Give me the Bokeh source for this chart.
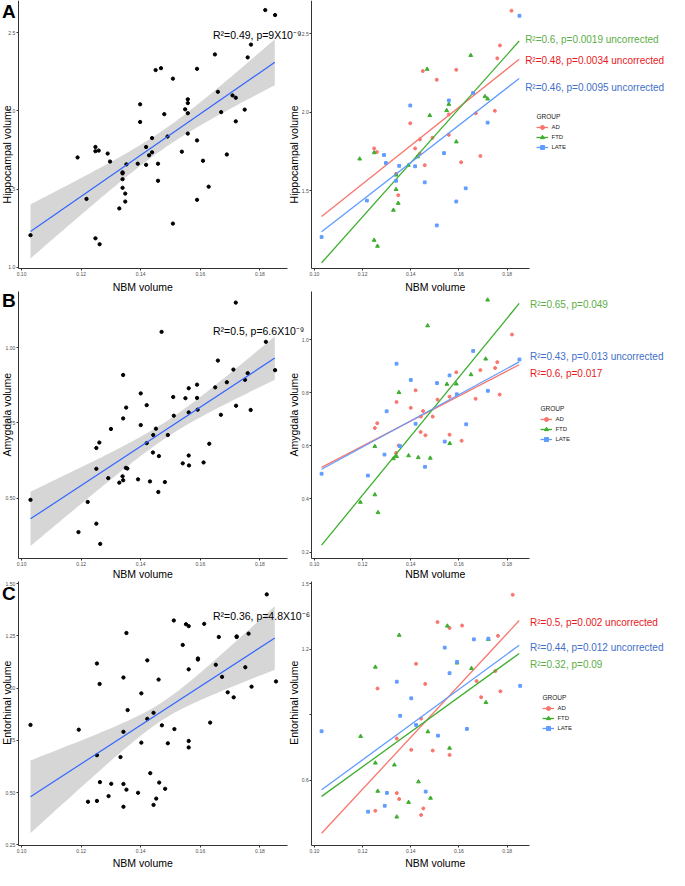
import numpy as np
from bokeh.plotting import figure
from bokeh.models import Range1d, FixedTicker, Label, Legend, LegendItem, LinearAxis
from bokeh.embed import file_html
from bokeh.resources import INLINE

# ------------------------------------------------------------------ data
x_ticks = [0.10, 0.12, 0.14, 0.16, 0.18]
x_tick_labels = ["0.10", "0.12", "0.14", "0.16", "0.18"]
groups = ["AD", "FTD", "LATE"]
fit_x = [0.103, 0.185]          # x extent of the fitted lines

# Row A : hippocampal volume
hip_nbm_ad = [0.1818, 0.1770, 0.1759, 0.1450, 0.1589, 0.1508, 0.1558, 0.1670, 0.1749, 0.1398, 0.1558,
              0.1490, 0.1438, 0.1418, 0.1248, 0.1259, 0.1689, 0.1438, 0.1458, 0.1609, 0.1339, 0.1348]
hip_vol_ad = [2.645, 2.424, 2.342, 2.261, 2.269, 2.206, 1.985, 1.992, 2.008, 1.929, 1.855,
              1.836, 1.826, 1.769, 1.769, 1.746, 1.721, 1.735, 1.662, 1.681, 1.607, 1.471]
hip_nbm_ftd = [0.1649, 0.1468, 0.1708, 0.1719, 0.1558, 0.1549, 0.1479, 0.1589, 0.1248, 0.1188, 0.1428,
               0.1390, 0.1339, 0.1339, 0.1348, 0.1328, 0.1248, 0.1262]
hip_vol_ftd = [2.361, 2.273, 2.099, 2.084, 2.050, 2.010, 1.979, 1.811, 1.742, 1.702, 1.716,
               1.662, 1.600, 1.508, 1.420, 1.376, 1.185, 1.147]
hip_nbm_late = [0.1851, 0.1659, 0.1398, 0.1558, 0.1719, 0.1289, 0.1538, 0.1297, 0.1352, 0.1418, 0.1339,
                0.1458, 0.1628, 0.1589, 0.1218, 0.1508, 0.1030]
hip_vol_late = [2.613, 2.122, 2.042, 2.074, 1.933, 1.727, 1.739, 1.676, 1.658, 1.655, 1.563,
                1.553, 1.515, 1.431, 1.437, 1.279, 1.205]
hip_fit_all = [1.229, 2.311]
hip_band_hw = [0.173, 0.060, 0.147]     # half width: left end, narrowest, right end
hip_fit_ad = [1.335, 2.336]
hip_fit_ftd = [1.041, 2.452]
hip_fit_late = [1.239, 2.214]
hip_yticks_left = [1.0, 1.5, 2.0, 2.5]
hip_ylabels_left = ["1.0", "1.5", "2.0", "2.5"]
hip_yticks_right = [1.5, 2.0, 2.5]
hip_ylabels_right = ["1.5", "2.0", "2.5"]
hip_text_all = "R²=0.49, p=9X10⁻⁹"
hip_text_groups = {"FTD": "R²=0.6, p=0.0019 uncorrected",
                   "AD": "R²=0.48, p=0.0034 uncorrected",
                   "LATE": "R²=0.46, p=0.0095 uncorrected"}

# Row B : amygdala volume
amy_nbm_ad = [0.1820, 0.1759, 0.1750, 0.1689, 0.1589, 0.1420, 0.1341, 0.1511, 0.1561, 0.1669, 0.1769,
              0.1400, 0.1451, 0.1442, 0.1491, 0.1261, 0.1251, 0.1441, 0.1461, 0.1561, 0.1611, 0.1350, 0.1339]
amy_vol_ad = [1.019, 0.915, 0.893, 0.885, 0.877, 0.809, 0.765, 0.774, 0.785, 0.777, 0.793,
              0.743, 0.731, 0.710, 0.710, 0.685, 0.667, 0.652, 0.640, 0.642, 0.619, 0.601, 0.573]
amy_nbm_ftd = [0.1719, 0.1470, 0.1650, 0.1711, 0.1550, 0.1589, 0.1351, 0.1562, 0.1251, 0.1341, 0.1328,
               0.1391, 0.1431, 0.1481, 0.1251, 0.1191, 0.1264]
amy_vol_ftd = [1.149, 1.052, 0.868, 0.927, 0.832, 0.833, 0.801, 0.609, 0.598, 0.560, 0.552,
               0.563, 0.556, 0.554, 0.416, 0.388, 0.349]
amy_nbm_late = [0.1851, 0.1659, 0.1341, 0.1400, 0.1509, 0.1561, 0.1591, 0.1720, 0.1300, 0.1420, 0.1630,
                0.1541, 0.1355, 0.1291, 0.1459, 0.1222, 0.1030]
amy_vol_late = [0.925, 0.957, 0.909, 0.848, 0.836, 0.865, 0.794, 0.807, 0.730, 0.683, 0.681,
                0.616, 0.599, 0.567, 0.521, 0.488, 0.495]
amy_fit_all = [0.432, 0.965]
amy_band_hw = [0.090, 0.027, 0.072]
amy_fit_ad = [0.519, 0.905]
amy_fit_ftd = [0.226, 1.136]
amy_fit_late = [0.512, 0.916]
amy_yticks_left = [0.50, 0.75, 1.00]
amy_ylabels_left = ["0.50", "0.75", "1.00"]
amy_yticks_right = [0.2, 0.4, 0.6, 0.8, 1.0]
amy_ylabels_right = ["0.2", "0.4", "0.6", "0.8", "1.0"]
amy_text_all = "R²=0.5, p=6.6X10⁻⁹"
amy_text_groups = {"FTD": "R²=0.65, p=0.049",
                   "LATE": "R²=0.43, p=0.013 uncorrected",
                   "AD": "R²=0.6, p=0.017"}

# Row C : entorhinal volume
ent_nbm_ad = [0.1823, 0.1511, 0.1561, 0.1613, 0.1762, 0.1422, 0.1751, 0.1460, 0.1262, 0.1673, 0.1772,
              0.1692, 0.1443, 0.1342, 0.1402, 0.1491, 0.1561, 0.1342, 0.1352, 0.1253, 0.1452, 0.1443]
ent_vol_ad = [1.449, 1.324, 1.297, 1.308, 1.261, 1.133, 1.100, 1.041, 1.020, 1.054, 1.007,
              0.980, 0.882, 0.791, 0.739, 0.736, 0.716, 0.541, 0.514, 0.460, 0.471, 0.441]
ent_nbm_ftd = [0.1552, 0.1352, 0.1722, 0.1253, 0.1592, 0.1652, 0.1712, 0.1471, 0.1192, 0.1561, 0.1253,
               0.1332, 0.1432, 0.1263, 0.1391, 0.1482, 0.1342]
ent_vol_ftd = [1.306, 1.264, 1.245, 1.118, 1.137, 1.112, 0.956, 0.822, 0.801, 0.747, 0.679,
               0.670, 0.593, 0.550, 0.499, 0.518, 0.432]
ent_nbm_late = [0.1662, 0.1722, 0.1541, 0.1592, 0.1561, 0.1342, 0.1854, 0.1402, 0.1356, 0.1422, 0.1513,
                0.1633, 0.1301, 0.1462, 0.1292, 0.1223, 0.1030]
ent_vol_late = [1.245, 1.248, 1.207, 1.142, 1.090, 1.051, 1.032, 0.975, 0.895, 0.853, 0.804,
                0.835, 0.542, 0.548, 0.483, 0.456, 0.824]
ent_fit_all = [0.480, 1.240]
ent_band_hw = [0.174, 0.043, 0.152]
ent_fit_ad = [0.357, 1.331]
ent_fit_ftd = [0.526, 1.180]
ent_fit_late = [0.556, 1.218]
ent_yticks_left = [0.25, 0.50, 0.75, 1.00, 1.25, 1.50]
ent_ylabels_left = ["0.25", "0.50", "75", "00", "1.25", "1.50"]
ent_yticks_right = [0.6, 0.9, 1.2, 1.5]
ent_ylabels_right = ["0.6", "", "1.2", "1.5"]
ent_text_all = "R²=0.36, p=4.8X10⁻⁶"
ent_text_groups = {"AD": "R²=0.5, p=0.002 uncorrected",
                   "LATE": "R²=0.44, p=0.012 uncorrected",
                   "FTD": "R²=0.32, p=0.09"}

# ------------------------------------------------------------------ style / layout
FONT = "Liberation Sans"
COL = {"AD": "#F8766D", "FTD": "#3DAE2E", "LATE": "#619CFF"}
TXT = {"AD": "#E8191E", "FTD": "#5BAE47", "LATE": "#3F6FC6"}
MARK = {"AD": "circle", "FTD": "triangle", "LATE": "square"}
MSIZE = {"AD": 3.0, "FTD": 3.8, "LATE": 2.8}
X_RANGE = (0.0989, 0.1891)
W, H = 669, 870


def CX(x):   # reference-picture x -> canvas x
    return (x - 8) * 0.988


def CY(y):   # reference-picture y -> canvas y (from top)
    return (y - 8) * 0.9863


p = figure(width=W, height=H, x_range=Range1d(0, W), y_range=Range1d(0, H),
           x_axis_type=None, y_axis_type=None, output_backend="svg",
           toolbar_location=None, min_border=0, min_border_left=0, min_border_right=0,
           min_border_top=0, min_border_bottom=0, outline_line_color=None,
           background_fill_color="white", border_fill_color="white")
p.grid.visible = False


def add_text(text, cx, cy, size="10.5px", color="black", align="center",
             baseline="middle", angle=0.0, style="normal"):
    p.add_layout(Label(x=cx, y=H - cy, x_units="screen", y_units="screen", text=text,
                       text_font=FONT, text_font_size=size, text_color=color,
                       text_align=align, text_baseline=baseline, angle=angle,
                       text_font_style=style))


def style_axis(ax):
    ax.axis_line_color = "#333333"
    ax.axis_line_width = 1
    ax.major_tick_line_color = "#333333"
    ax.major_tick_out = 2
    ax.major_tick_in = 0
    ax.minor_tick_line_color = None
    ax.major_label_text_font = FONT
    ax.major_label_text_font_size = "5px"
    ax.major_label_text_color = "#4D4D4D"
    ax.major_label_standoff = 1


def panel(key, fx, fy, yr, yticks, ylabels):
    """Create ranges and axes for one panel whose frame occupies ref box fx x fy."""
    x0, x1 = X_RANGE
    y0, y1 = yr
    cl, cr = CX(fx[0]), CX(fx[1])
    ct, cb = CY(fy[0]), CY(fy[1])
    sx = (x1 - x0) / (cr - cl)
    sy = (y1 - y0) / (cb - ct)
    p.extra_x_ranges[key + "x"] = Range1d(x0 - cl * sx, x0 + (W - cl) * sx)
    p.extra_y_ranges[key + "y"] = Range1d(y0 - (H - cb) * sy, y1 + ct * sy)
    kw = dict(x_range_name=key + "x", y_range_name=key + "y")
    yax = LinearAxis(fixed_location=x0, bounds=(y0, y1), ticker=FixedTicker(ticks=yticks),
                     major_label_overrides=dict(zip(yticks, ylabels)), **kw)
    xax = LinearAxis(fixed_location=y0, bounds=(x0, x1), ticker=FixedTicker(ticks=x_ticks),
                     major_label_overrides=dict(zip(x_ticks, x_tick_labels)), **kw)
    style_axis(yax)
    style_axis(xax)
    p.add_layout(yax, "left")
    p.add_layout(xax, "below")
    return kw


def band(fit_y, hw):
    x_lo, x_hi = fit_x
    hw_lo, hw_min, hw_hi = hw
    a = hw_lo ** 2 - hw_min ** 2
    b = hw_hi ** 2 - hw_min ** 2
    r = np.sqrt(a / b)
    xc = (x_lo + r * x_hi) / (1 + r)
    k = a / (xc - x_lo) ** 2
    xs = np.linspace(x_lo, x_hi, 80)
    ys = fit_y[0] + (fit_y[1] - fit_y[0]) * (xs - x_lo) / (x_hi - x_lo)
    h = np.sqrt(hw_min ** 2 + k * (xs - xc) ** 2)
    return xs, ys - h, ys + h


rows_cfg = [
    dict(key="A", fy=(8, 280), letter="A", letter_top=0.5, ylabel="Hippocampal volume", ylab_y=164,
         xlab_y=298, yl_range=(0.99, 2.706), yr_range=(1.003, 2.71),
         yl_ticks=hip_yticks_left, yl_labels=hip_ylabels_left,
         yr_ticks=hip_yticks_right, yr_labels=hip_ylabels_right,
         pts={"AD": (hip_nbm_ad, hip_vol_ad), "FTD": (hip_nbm_ftd, hip_vol_ftd),
              "LATE": (hip_nbm_late, hip_vol_late)},
         fit_all=hip_fit_all, band_hw=hip_band_hw,
         fits={"AD": hip_fit_ad, "FTD": hip_fit_ftd, "LATE": hip_fit_late},
         text_all=hip_text_all, text_all_y=42.7, text_groups=hip_text_groups,
         gtext_x=539, gtext_y={"FTD": 47.3, "AD": 69.3, "LATE": 96.7},
         leg_x=551, leg_bottom=162),
    dict(key="B", fy=(303, 574), letter="B", letter_top=CY(305) - 3.5, ylabel="Amygdala volume",
         ylab_y=428, xlab_y=589, yl_range=(0.2997, 1.186), yr_range=(0.175, 1.181),
         yl_ticks=amy_yticks_left, yl_labels=amy_ylabels_left,
         yr_ticks=amy_yticks_right, yr_labels=amy_ylabels_right,
         pts={"AD": (amy_nbm_ad, amy_vol_ad), "FTD": (amy_nbm_ftd, amy_vol_ftd),
              "LATE": (amy_nbm_late, amy_vol_late)},
         fit_all=amy_fit_all, band_hw=amy_band_hw,
         fits={"AD": amy_fit_ad, "FTD": amy_fit_ftd, "LATE": amy_fit_late},
         text_all=amy_text_all, text_all_y=343.3, text_groups=amy_text_groups,
         gtext_x=544, gtext_y={"FTD": 316.7, "LATE": 369.0, "AD": 385.7},
         leg_x=555, leg_bottom=458),
    dict(key="C", fy=(597, 865), letter="C", letter_top=CY(602) - 3.5, ylabel="Entorhinal volume",
         ylab_y=720, xlab_y=882, yl_range=(0.2453, 1.511), yr_range=(0.30, 1.51),
         yl_ticks=ent_yticks_left, yl_labels=ent_ylabels_left,
         yr_ticks=ent_yticks_right, yr_labels=ent_ylabels_right,
         pts={"AD": (ent_nbm_ad, ent_vol_ad), "FTD": (ent_nbm_ftd, ent_vol_ftd),
              "LATE": (ent_nbm_late, ent_vol_late)},
         fit_all=ent_fit_all, band_hw=ent_band_hw,
         fits={"AD": ent_fit_ad, "FTD": ent_fit_ftd, "LATE": ent_fit_late},
         text_all=ent_text_all, text_all_y=631.7, text_groups=ent_text_groups,
         gtext_x=544, gtext_y={"AD": 639.0, "LATE": 664.0, "FTD": 681.0},
         leg_x=557, leg_bottom=751),
]

LEFT_FX, RIGHT_FX = (26, 298), (323, 543)

for cfg in rows_cfg:
    # ---------------- left panel (all subjects, black)
    kw = panel(cfg["key"] + "l", LEFT_FX, cfg["fy"], cfg["yl_range"], cfg["yl_ticks"], cfg["yl_labels"])
    xs, lo, hi = band(cfg["fit_all"], cfg["band_hw"])
    p.varea(x=xs, y1=lo, y2=hi, fill_color="#999999", fill_alpha=0.4, **kw)
    all_x = sum((cfg["pts"][g][0] for g in groups), [])
    all_y = sum((cfg["pts"][g][1] for g in groups), [])
    p.scatter(all_x, all_y, size=3.3, color="black", **kw)
    p.line(fit_x, cfg["fit_all"], line_color="#3366FF", line_width=1.2, **kw)
    add_text(cfg["text_all"], CX(223), CY(cfg["text_all_y"]), size="10.5px", align="left")
    add_text(cfg["letter"], 1.5, cfg["letter_top"], size="19px", align="left",
             baseline="top", style="bold")
    add_text(cfg["ylabel"], 6.0, CY(cfg["ylab_y"]), size="10.5px", angle=np.pi / 2)
    add_text("NBM volume", CX(152), CY(cfg["xlab_y"]), size="10.5px")

    # ---------------- right panel (by group)
    kw = panel(cfg["key"] + "r", RIGHT_FX, cfg["fy"], cfg["yr_range"], cfg["yr_ticks"], cfg["yr_labels"])
    items = []
    for g in groups:
        gx, gy = cfg["pts"][g]
        sr = p.scatter(gx, gy, marker=MARK[g], size=MSIZE[g], color=COL[g], **kw)
        lr = p.line(fit_x, cfg["fits"][g], line_color=COL[g], line_width=1.3, **kw)
        items.append(LegendItem(label=g, renderers=[lr, sr]))
    legend = Legend(items=items, title="GROUP",
                    location=(CX(cfg["leg_x"]), H - CY(cfg["leg_bottom"])),
                    title_text_font=FONT, title_text_font_size="6.5px",
                    title_text_font_style="normal", title_text_color="#1a1a1a",
                    title_standoff=2, label_text_font=FONT, label_text_font_size="6px",
                    label_text_color="#1a1a1a", glyph_width=12, glyph_height=10,
                    label_height=10, label_standoff=3, spacing=0, padding=0, margin=0,
                    border_line_alpha=0, background_fill_alpha=0)
    p.add_layout(legend)
    for g in groups:
        add_text(cfg["text_groups"][g], CX(cfg["gtext_x"]), CY(cfg["gtext_y"][g]),
                 size="10px", color=TXT[g], align="left")
    add_text(cfg["ylabel"], CX(305), CY(cfg["ylab_y"]), size="10.5px", angle=np.pi / 2)
    add_text("NBM volume", CX(448), CY(cfg["xlab_y"]), size="10.5px")

with open("out.html", "w", encoding="utf-8") as f:
    f.write(file_html(p, INLINE))
